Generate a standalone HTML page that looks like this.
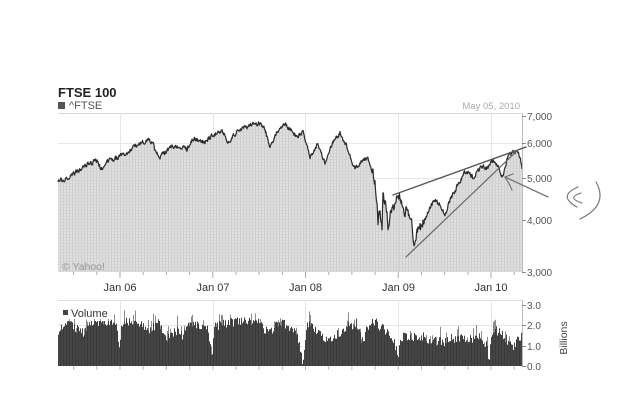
<!DOCTYPE html>
<html><head><meta charset="utf-8"><style>
html,body{margin:0;padding:0;background:#fff;}
svg{display:block;}
text{font-family:"Liberation Sans",Arial,sans-serif;}
</style></head><body>
<svg id="s" width="624" height="403" viewBox="0 0 624 403" xmlns="http://www.w3.org/2000/svg">
<defs>
<pattern id="g" width="3" height="3" patternUnits="userSpaceOnUse">
<rect width="3" height="3" fill="#e0e0e0"/>
<rect width="1" height="3" fill="#cdcdcd"/>
<rect width="3" height="1" fill="#d4d4d4"/>
</pattern>
<pattern id="gv" width="3" height="3" patternUnits="userSpaceOnUse">
<rect width="3" height="3" fill="#454545"/>
<rect width="1" height="3" fill="#3a3a3a"/>
</pattern>
</defs>
<rect width="624" height="403" fill="#fff"/>

<!-- Title -->
<text x="58" y="97" font-size="13" font-weight="bold" fill="#222">FTSE 100</text>
<rect x="58" y="102" width="7" height="7" fill="#555"/>
<text x="69" y="109" font-size="11" fill="#555">^FTSE</text>
<text x="520" y="109" font-size="9.5" fill="#aaa" text-anchor="end">May 05, 2010</text>

<!-- main chart frame / grid -->
<line x1="58" y1="113.5" x2="522" y2="113.5" stroke="#d8d8d8" stroke-width="1"/>
<g stroke="#e6e6e6" stroke-width="1">
<line x1="58" y1="143.5" x2="522" y2="143.5"/>
<line x1="58" y1="178.5" x2="522" y2="178.5"/>
<line x1="58" y1="220.5" x2="522" y2="220.5"/>
<line x1="120.5" y1="113" x2="120.5" y2="272"/>
<line x1="213.5" y1="113" x2="213.5" y2="272"/>
<line x1="305.5" y1="113" x2="305.5" y2="272"/>
<line x1="398.5" y1="113" x2="398.5" y2="272"/>
<line x1="491.5" y1="113" x2="491.5" y2="272"/>
</g>

<path id="pf" fill="url(#g)" d="M58,180L60,180L70,177L83,167L97,160L102,170L105,162L117,158L127,152L140,143L150,140L153,142L155,152L160,158L167,150L173,147L183,147L187,150L193,138L203,142L213,135L223,132L228,142L237,132L250,125L260,123L265,130L270,147L277,132L285,122L290,130L297,137L303,130L310,157L317,145L325,162L333,142L340,133L347,147L355,170L360,162L367,158L372,170L375,183L377,203L378,223L380,208L382,228L383,197L387,210L388,232L392,207L395,203L399,193L403,212L408,208L412,227L414,245L417,233L423,223L430,207L435,200L440,205L445,215L450,200L457,187L463,175L467,172L473,177L480,168L487,167L493,160L498,167L502,177L505,168L508,157L513,152L517,150L520,157L522,168L522,272L58,272Z"/>
<g stroke="#d0d0d0" stroke-width="1" opacity="0.6">
<line x1="120.5" y1="150" x2="120.5" y2="272"/>
<line x1="213.5" y1="140" x2="213.5" y2="272"/>
<line x1="305.5" y1="140" x2="305.5" y2="272"/>
<line x1="398.5" y1="200" x2="398.5" y2="272"/>
<line x1="491.5" y1="165" x2="491.5" y2="272"/>
</g>
<path id="pl" fill="none" stroke="#2a2a2a" stroke-width="1.2" stroke-linejoin="round" d="M58,180L60,180L70,177L83,167L97,160L102,170L105,162L117,158L127,152L140,143L150,140L153,142L155,152L160,158L167,150L173,147L183,147L187,150L193,138L203,142L213,135L223,132L228,142L237,132L250,125L260,123L265,130L270,147L277,132L285,122L290,130L297,137L303,130L310,157L317,145L325,162L333,142L340,133L347,147L355,170L360,162L367,158L372,170L375,183L377,203L378,223L380,208L382,228L383,197L387,210L388,232L392,207L395,203L399,193L403,212L408,208L412,227L414,245L417,233L423,223L430,207L435,200L440,205L445,215L450,200L457,187L463,175L467,172L473,177L480,168L487,167L493,160L498,167L502,177L505,168L508,157L513,152L517,150L520,157L522,168"/>

<!-- right axis main -->
<line x1="522.5" y1="113" x2="522.5" y2="272" stroke="#bbb" stroke-width="1"/>
<g stroke="#888" stroke-width="1">
<line x1="522" y1="116.5" x2="526" y2="116.5"/>
<line x1="522" y1="143.5" x2="526" y2="143.5"/>
<line x1="522" y1="178.5" x2="526" y2="178.5"/>
<line x1="522" y1="220.5" x2="526" y2="220.5"/>
<line x1="522" y1="272.5" x2="526" y2="272.5"/>
</g>
<g font-size="10" fill="#555">
<text x="527" y="120">7,000</text>
<text x="527" y="147">6,000</text>
<text x="527" y="182">5,000</text>
<text x="527" y="224">4,000</text>
<text x="527" y="276">3,000</text>
</g>

<text x="62" y="270" font-size="10.5" fill="#999">© Yahoo!</text>

<!-- bottom ticks main -->
<g id="tk1" stroke="#aaa" stroke-width="1"></g>

<!-- x labels -->
<g font-size="11" fill="#333" text-anchor="middle">
<text x="120" y="291">Jan 06</text>
<text x="213" y="291">Jan 07</text>
<text x="305.5" y="291">Jan 08</text>
<text x="398.5" y="291">Jan 09</text>
<text x="491" y="291">Jan 10</text>
</g>

<!-- volume panel -->
<line x1="58" y1="300.5" x2="522" y2="300.5" stroke="#ddd" stroke-width="1"/>
<g stroke="#e6e6e6" stroke-width="1">
<line x1="58" y1="325.5" x2="522" y2="325.5"/>
<line x1="58" y1="346.5" x2="522" y2="346.5"/>
<line x1="120.5" y1="300" x2="120.5" y2="366"/>
<line x1="213.5" y1="300" x2="213.5" y2="366"/>
<line x1="305.5" y1="300" x2="305.5" y2="366"/>
<line x1="398.5" y1="300" x2="398.5" y2="366"/>
<line x1="491.5" y1="300" x2="491.5" y2="366"/>
</g>
<path id="vl" fill="#8a8a8a" d=""/>
<path id="vd" fill="url(#gv)" d="M58,366L58,330L70,323L83,333L93,323L103,320L117,323L119,353L122,322L140,322L150,333L157,322L167,337L177,330L183,337L190,323L207,327L212,355L215,327L230,322L243,322L257,322L270,333L280,322L297,333L303,363L306,330L310,323L317,333L330,340L340,333L347,327L357,323L363,343L368,325L377,323L387,333L395,343L398,358L401,337L413,337L423,337L433,340L443,342L453,338L467,340L480,337L487,347L489,360L492,333L500,330L507,340L513,347L520,337L522,337L522,366Z"/>
<rect x="63" y="310" width="5" height="5" fill="#444"/>
<text x="71" y="317" font-size="11" fill="#333">Volume</text>

<line x1="522.5" y1="300" x2="522.5" y2="366" stroke="#bbb" stroke-width="1"/>
<g stroke="#888" stroke-width="1">
<line x1="522" y1="305.5" x2="526" y2="305.5"/>
<line x1="522" y1="325.5" x2="526" y2="325.5"/>
<line x1="522" y1="346.5" x2="526" y2="346.5"/>
<line x1="522" y1="366.5" x2="526" y2="366.5"/>
</g>
<g font-size="10" fill="#555">
<text x="527" y="309">3.0</text>
<text x="527" y="329">2.0</text>
<text x="527" y="350">1.0</text>
<text x="527" y="370">0.0</text>
</g>
<text transform="translate(567,338) rotate(-90)" text-anchor="middle" font-size="10.5" fill="#444">Billions</text>
<g id="tk2" stroke="#bbb" stroke-width="1"></g>

<!-- hand-drawn annotations -->
<g fill="none" stroke-linecap="round">
<line x1="393" y1="195" x2="526" y2="147" stroke="#555" stroke-width="1.4"/>
<line x1="406" y1="257" x2="518" y2="150" stroke="#666" stroke-width="1.2"/>
<path d="M548,197 L505,177" stroke="#777" stroke-width="1.3"/>
<path d="M505,177 L513,174" stroke="#777" stroke-width="1.2"/>
<path d="M505,177 Q509,183 512,190" stroke="#777" stroke-width="1.2"/>
<path d="M578,187 Q557,196 577,207" stroke="#777" stroke-width="1.2"/>
<path d="M581,193 Q566,198 582,203" stroke="#777" stroke-width="1.1"/>
<path d="M596,182 Q609,205 580,219" stroke="#777" stroke-width="1.2"/>
</g>
</svg>
<script>
(function(){
function mulberry32(a){return function(){a|=0;a=a+0x6D2B79F5|0;var t=Math.imul(a^a>>>15,1|a);t=t+Math.imul(t^t>>>7,61|t)^t;return((t^t>>>14)>>>0)/4294967296;}}
var r=mulberry32(12345);
var P=[[58,180],[60,180],[70,177],[83,167],[97,160],[102,170],[105,162],[117,158],[127,152],[140,143],[150,140],[153,142],[155,152],[160,158],[167,150],[173,147],[183,147],[187,150],[193,138],[203,142],[213,135],[223,132],[228,142],[237,132],[250,125],[260,123],[265,130],[270,147],[277,132],[285,122],[290,130],[297,137],[303,130],[310,157],[317,145],[325,162],[333,142],[340,133],[347,147],[355,170],[360,162],[367,158],[372,170],[375,183],[377,203],[378,223],[380,208],[382,228],[383,197],[387,210],[388,232],[392,207],[395,203],[399,193],[403,212],[408,208],[412,227],[414,245],[417,233],[423,223],[430,207],[435,200],[440,205],[445,215],[450,200],[457,187],[463,175],[467,172],[473,177],[480,168],[487,167],[493,160],[498,167],[502,177],[505,168],[508,157],[513,152],[517,150],[520,157],[522,168]];
var V=[[58,330],[70,323],[83,333],[93,323],[103,320],[117,323],[119,353],[122,322],[140,322],[150,333],[157,322],[167,337],[177,330],[183,337],[190,323],[207,327],[212,355],[215,327],[230,322],[243,322],[257,322],[270,333],[280,322],[297,333],[303,363],[306,330],[310,323],[317,333],[330,340],[340,333],[347,327],[357,323],[363,343],[368,325],[377,323],[387,333],[395,343],[398,358],[401,337],[413,337],[423,337],[433,340],[443,342],[453,338],[467,340],[480,337],[487,347],[489,360],[492,333],[500,330],[507,340],[513,347],[520,337],[522,337]];
function interp(K,x){for(var i=0;i<K.length-1;i++){if(x<=K[i+1][0]){var a=K[i],b=K[i+1];var t=(x-a[0])/((b[0]-a[0])||1);return a[1]+(b[1]-a[1])*t;}}return K[K.length-1][1];}
var n=0,d="";
for(var x=58;x<=522.01;x+=0.5){
 var vol=(x>372&&x<425)?2.2:1;
 n=0.45*n+(r()-0.5)*4.2*vol;
 var y=interp(P,x)+n;
 d+=(d?"L":"M")+x.toFixed(1)+","+y.toFixed(1);
}
document.getElementById("pl").setAttribute("d",d);
document.getElementById("pf").setAttribute("d",d+"L522,272L58,272Z");
var dd="",dl="";
for(var x=58;x<522;x++){
 var e=interp(V,x+0.5);
 var top=e+(r()-0.5)*10;
 if(top>364)top=364;
 if(x<110&&top<321)top=321;
 dd+="M"+x+","+top.toFixed(1)+"h1V366h-1Z";
 if(r()<0.18){var ext=3+r()*9;var tt=top-ext;if(x<110&&tt<319)tt=319;dl+="M"+x+","+tt.toFixed(1)+"h1V"+top.toFixed(1)+"h-1Z";}
}
document.getElementById("vd").setAttribute("d",dd);
document.getElementById("vl").setAttribute("d",dl);
var ns="http://www.w3.org/2000/svg";
var t1=document.getElementById("tk1"),t2=document.getElementById("tk2");
for(var k=-3;k<=18;k++){
 var xx=120+k*23.19;
 if(xx<58||xx>522)continue;
 var major=(k%4===0);
 var l=document.createElementNS(ns,"line");
 l.setAttribute("x1",xx.toFixed(1));l.setAttribute("x2",xx.toFixed(1));
 l.setAttribute("y1","272");l.setAttribute("y2",major?"278":"275");
 t1.appendChild(l);
 var l2=document.createElementNS(ns,"line");
 l2.setAttribute("x1",xx.toFixed(1));l2.setAttribute("x2",xx.toFixed(1));
 l2.setAttribute("y1","366");l2.setAttribute("y2","370");
 t2.appendChild(l2);
}
})();
</script>
</body></html>
